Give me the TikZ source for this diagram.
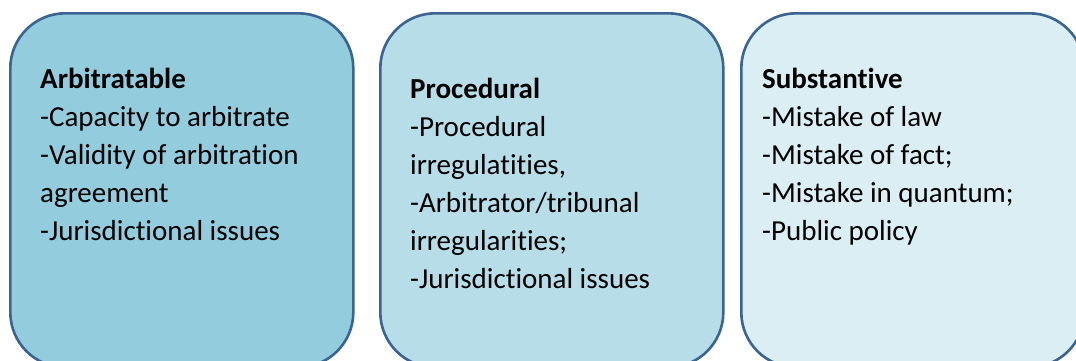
\documentclass[tikz,border=0pt]{standalone}
\usepackage{fontspec}
\setmainfont[Ligatures={NoCommon}]{Carlito}
\definecolor{edge}{HTML}{3B6491}
\definecolor{fillA}{HTML}{93CDDD}
\definecolor{fillB}{HTML}{B7DEE8}
\definecolor{fillC}{HTML}{DBEEF4}
\tikzset{
  card/.style={draw=edge, line width=2.6pt, rounded corners=55pt, anchor=north west,
    minimum width=343pt, minimum height=354pt, inner sep=0pt},
  cardtext/.style={anchor=base west, inner sep=0pt, font=\fontsize{29}{38}\selectfont}
}
\begin{document}
\begin{tikzpicture}[x=1pt,y=1pt]
\useasboundingbox (0,0) rectangle (1076,-360);
\fill[white] (0,0) rectangle (1076,-360);
\node[card, fill=fillA] (b1) at (9,-12) {};
\node[card, fill=fillB] (b2) at (379,-12) {};
\node[card, fill=fillC] (b3) at (740,-12) {};
\node[cardtext] (t1) at (40,-88) {\parbox[t]{300pt}{\baselineskip=38pt\textbf{Arbitratable}\\-Capacity to arbitrate\\-Validity of arbitration\\agreement\\-Jurisdictional issues}};
\node[cardtext] (t2) at (410,-98) {\parbox[t]{300pt}{\baselineskip=38pt\textbf{Procedural}\\-Procedural\\irregulatities,\\-Arbitrator/tribunal\\irregularities;\\-Jurisdictional issues}};
\node[cardtext] (t3) at (762,-88) {\parbox[t]{300pt}{\baselineskip=38pt\textbf{Substantive}\\-Mistake of law\\-Mistake of fact;\\-Mistake in quantum;\\-Public policy}};
\end{tikzpicture}
\end{document}
